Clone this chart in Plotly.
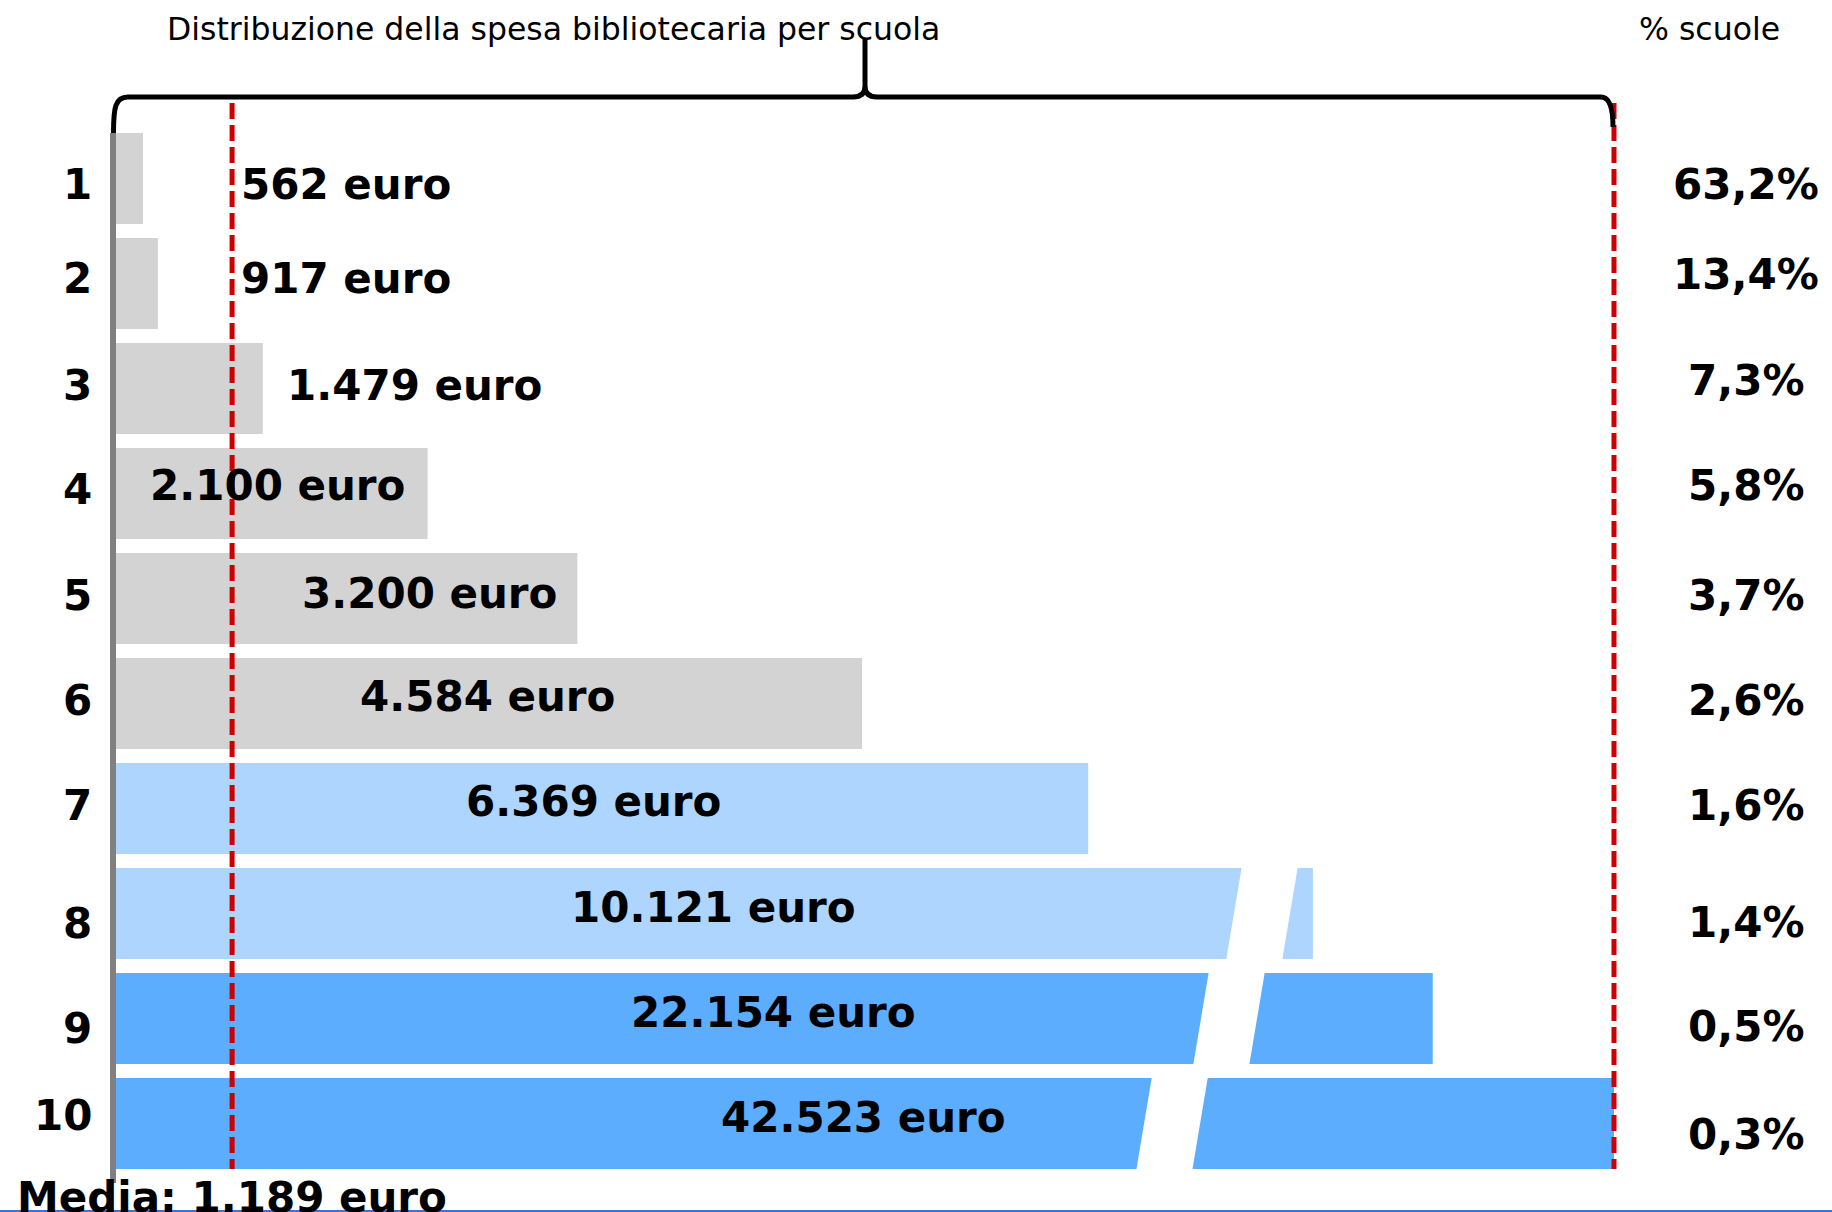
import plotly.graph_objects as go

# ---------------- data ----------------
categories = ["1", "2", "3", "4", "5", "6", "7", "8", "9", "10"]
# bar lengths as drawn on the chart's (non-linear, broken) scale, 0-100
bar_lengths = [1.8, 2.8, 9.8, 20.8, 30.8, 49.8, 64.9, 79.9, 87.9, 100.0]
spend_labels = ["562 euro", "917 euro", "1.479 euro", "2.100 euro", "3.200 euro",
                "4.584 euro", "6.369 euro", "10.121 euro", "22.154 euro", "42.523 euro"]
pct_labels = ["63,2%", "13,4%", "7,3%", "5,8%", "3,7%", "2,6%", "1,6%", "1,4%", "0,5%", "0,3%"]
groups = ["low", "low", "low", "low", "low", "low", "mid", "mid", "high", "high"]
# position of the axis break on the drawn scale (None = no break)
break_at = [None, None, None, None, None, None, None, 76.5, 74.3, 70.5]
mean_position = 7.75          # average spend, on the drawn scale
mean_label = "Media: 1.189 euro"
title_text = "Distribuzione della spesa bibliotecaria per scuola"
pct_header = "% scuole"

# ---------------- styles / layout constants ----------------
W, H = 1832, 1212
ML, MR, MT, MB = 116, 218, 126, 36
PW, PH = W - ML - MR, H - MT - MB
group_colors = {"low": "#D3D3D3", "mid": "#ADD5FD", "high": "#5CADFD"}
FONT = "DejaVu Sans"
BOLD = dict(family=FONT, size=42, color="black", weight="bold")
BARGAP = 0.133

# label placement (text positions, drawn-scale units)
label_x = [8.2, 8.2, 19.9, 10.8, 20.9, 24.8, 31.9, 39.9, 43.9, 49.9]
label_anchor = ["left", "left"] + ["center"] * 8
label_dy = [6, -5, -3, -8, -5, -7, -7, -6, -6, -6]
row_dy = [6, -5, -3, -4, -3, -3, -3, 10, 10, -8]
pct_dy = [6, -9, -8, -8, -3, -3, -3, 9, 8, 11]


def px(x):
    return (x - ML) / PW


def py(y):
    return (MT + PH - y) / PH


ypos = list(range(len(categories)))

fig = go.Figure()
fig.add_trace(go.Bar(
    x=bar_lengths, y=ypos, orientation="h",
    marker=dict(color=[group_colors[g] for g in groups], line=dict(width=0)),
    hoverinfo="skip", showlegend=False,
))

shapes = []
# axis breaks: white slanted gaps
half_w = 1 - BARGAP
hw, slant = 1.87, 0.52
for i, b in enumerate(break_at):
    if b is None:
        continue
    yt, yb = ypos[i] - half_w / 2 - 0.01, ypos[i] + half_w / 2 + 0.01
    path = (f"M {b + slant - hw},{yt} L {b + slant + hw},{yt} "
            f"L {b - slant + hw},{yb} L {b - slant - hw},{yb} Z")
    shapes.append(dict(type="path", xref="x", yref="y", path=path,
                       fillcolor="white", line=dict(width=0), layer="above"))

# left gray axis line
shapes.append(dict(type="line", xref="paper", yref="paper",
                   x0=px(113), x1=px(113), y0=py(133), y1=py(1183),
                   line=dict(color="#808080", width=6)))
# red dashed lines (mean and end of scale) — paper-referenced so they are not clipped
for xv in (mean_position, 100):
    xp = xv / 100.0
    shapes.append(dict(type="line", xref="paper", yref="paper",
                       x0=xp, x1=xp, y0=py(103), y1=py(1169),
                       line=dict(color="#CC0000", width=5, dash="16px,6px")))

# curly brace over the distribution
pts = [("M", 113.5, 133), ("C", 113.5, 108, 115, 97, 128, 97), ("L", 853, 97),
       ("Q", 865, 97, 865, 86), ("L", 865, 38), ("L", 865, 86),
       ("Q", 865, 97, 877, 97), ("L", 1601, 97), ("Q", 1613, 97, 1613, 127)]
segs = []
for p in pts:
    cmd, coords = p[0], p[1:]
    xy = []
    for k in range(0, len(coords), 2):
        xy.append(f"{px(coords[k]):.5f},{py(coords[k + 1]):.5f}")
    segs.append(cmd + " " + " ".join(xy))
shapes.append(dict(type="path", xref="paper", yref="paper", path=" ".join(segs),
                   line=dict(color="black", width=5), fillcolor="rgba(0,0,0,0)"))

# bottom blue rule
shapes.append(dict(type="line", xref="paper", yref="paper",
                   x0=px(0), x1=px(W), y0=py(1211), y1=py(1211),
                   line=dict(color="#3B74D6", width=2)))

annotations = []
for i, c in enumerate(categories):
    annotations.append(dict(x=0, y=ypos[i], xref="paper", yref="y", text=c,
                            xanchor="right", yanchor="middle", xshift=-22,
                            yshift=-row_dy[i], showarrow=False, font=BOLD))
    annotations.append(dict(x=label_x[i], y=ypos[i], xref="x", yref="y",
                            text=spend_labels[i], xanchor=label_anchor[i],
                            yanchor="middle", yshift=-label_dy[i],
                            showarrow=False, font=BOLD))
    annotations.append(dict(x=px(1746), y=ypos[i], xref="paper", yref="y",
                            text=pct_labels[i], xanchor="center",
                            yanchor="middle", yshift=-pct_dy[i],
                            showarrow=False, font=BOLD))

annotations.append(dict(x=px(165), y=py(29), xref="paper", yref="paper",
                        text=title_text, xanchor="left", yanchor="middle",
                        showarrow=False,
                        font=dict(family=FONT, size=31.5, color="black")))
annotations.append(dict(x=px(1637), y=py(29), xref="paper", yref="paper",
                        text=pct_header, xanchor="left", yanchor="middle",
                        showarrow=False,
                        font=dict(family=FONT, size=31.5, color="black")))
annotations.append(dict(x=px(15), y=py(1197), xref="paper", yref="paper",
                        text=mean_label, xanchor="left", yanchor="middle",
                        showarrow=False, font=BOLD))

fig.update_layout(
    width=W, height=H,
    margin=dict(l=ML, r=MR, t=MT, b=MB),
    paper_bgcolor="white", plot_bgcolor="white",
    bargap=BARGAP,
    xaxis=dict(range=[0, 100], visible=False, fixedrange=True),
    yaxis=dict(range=[len(categories) - 0.5, -0.5], visible=False, fixedrange=True),
    shapes=shapes, annotations=annotations,
    showlegend=False,
)

fig.write_html("out.html", config={"displayModeBar": False},
               post_script="document.body.style.margin='0';document.body.style.overflow='hidden';")
